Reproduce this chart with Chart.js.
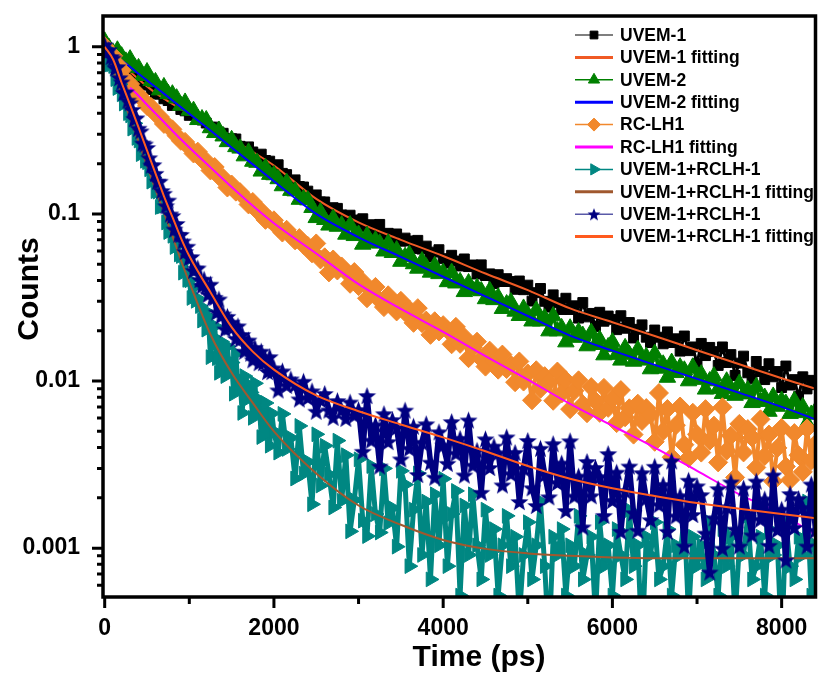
<!DOCTYPE html>
<html>
<head>
<meta charset="utf-8">
<script src="https://cdn.jsdelivr.net/npm/chart.js@4.4.1/dist/chart.umd.min.js"></script>
<style>
  html, body { margin: 0; padding: 0; background: #fff; }
  #wrap { width: 826px; height: 675px; }
</style>
</head>
<body>
<div id="wrap"><canvas id="chart" width="826" height="675"></canvas></div>
<script>
// ---- time grids (ps) ----
const timeSlow = [0,50,100,150,200,250,300,350,400,450,500,550,600,650,700,750,800,850,900,950,
  1000,1050,1100,1150,1200,1250,1300,1350,1400,1450,1500,1550,1600,1650,1700,1750,1800,1850,1900,1950,
  2000,2050,2100,2150,2200,2250,2300,2350,2400,2450,2500,2550,2600,2650,2700,2750,2800,2850,2900,2950,
  3000,3050,3100,3150,3200,3250,3300,3350,3400,3450,3500,3550,3600,3650,3700,3750,3800,3850,3900,3950,
  4000,4050,4100,4150,4200,4250,4300,4350,4400,4450,4500,4550,4600,4650,4700,4750,4800,4850,4900,4950,
  5000,5050,5100,5150,5200,5250,5300,5350,5400,5450,5500,5550,5600,5650,5700,5750,5800,5850,5900,5950,
  6000,6050,6100,6150,6200,6250,6300,6350,6400,6450,6500,6550,6600,6650,6700,6750,6800,6850,6900,6950,
  7000,7050,7100,7150,7200,7250,7300,7350,7400,7450,7500,7550,7600,7650,7700,7750,7800,7850,7900,7950,
  8000,8050,8100,8150,8200,8250,8300,8350,8400];
const timeFast = [0,25,50,75,100,125,150,175,200,225,250,275,300,325,350,375,400,425,450,475,
  500,525,550,575,600,625,650,675,700,725,750,775,800,825,850,875,900,925,950,975,
  1000,1025,1050,1075,1100,1125,1150,1175,1200,1225,1250,1275,1300,1325,1350,1375,1400,1425,1450,1475,
  1500,1525,1550,1575,1600,1625,1650,1675,1700,1725,1750,1775,1800,1825,1850,1875,1900,1925,1950,1975,
  2000,2050,2100,2150,2200,2250,2300,2350,2400,2450,2500,2550,2600,2650,2700,2750,2800,2850,2900,2950,
  3000,3050,3100,3150,3200,3250,3300,3350,3400,3450,3500,3550,3600,3650,3700,3750,3800,3850,3900,3950,
  4000,4050,4100,4150,4200,4250,4300,4350,4400,4450,4500,4550,4600,4650,4700,4750,4800,4850,4900,4950,
  5000,5050,5100,5150,5200,5250,5300,5350,5400,5450,5500,5550,5600,5650,5700,5750,5800,5850,5900,5950,
  6000,6050,6100,6150,6200,6250,6300,6350,6400,6450,6500,6550,6600,6650,6700,6750,6800,6850,6900,6950,
  7000,7050,7100,7150,7200,7250,7300,7350,7400,7450,7500,7550,7600,7650,7700,7750,7800,7850,7900,7950,
  8000,8050,8100,8150,8200,8250,8300,8350,8400];
const fitTime = [0,100,200,300,400,500,600,700,800,900,1000,1250,1500,1750,2000,2500,3000,3500,4000,4500,
  5000,5500,6000,6500,7000,7500,8000,8400];

// ---- measured decays (counts, normalised) ----
const uvem1 = [1.01,0.930,0.912,0.835,0.801,0.731,0.712,0.689,0.633,0.597,
  0.590,0.555,0.523,0.521,0.489,0.477,0.446,0.452,0.422,0.414,
  0.389,0.393,0.370,0.365,0.350,0.330,0.331,0.309,0.304,0.283,
  0.282,0.281,0.254,0.240,0.252,0.235,0.220,0.228,0.209,0.207,
  0.187,0.197,0.175,0.172,0.153,0.160,0.146,0.145,0.137,0.125,
  0.130,0.118,0.118,0.105,0.109,0.108,0.0987,0.0936,0.0983,0.092,
  0.0850,0.0936,0.0842,0.0862,0.0760,0.0866,0.0749,0.0766,0.0670,0.0759,
  0.0687,0.0717,0.0689,0.0620,0.0695,0.0616,0.0642,0.0552,0.0591,0.0611,
  0.0540,0.0508,0.0566,0.0523,0.0488,0.0538,0.0484,0.0495,0.0437,0.0496,
  0.0428,0.0438,0.0383,0.0433,0.0394,0.0410,0.0394,0.0354,0.0397,0.0352,
  0.0375,0.0301,0.0338,0.0358,0.0300,0.0277,0.0328,0.0294,0.0268,0.0313,
  0.0268,0.0282,0.0238,0.0295,0.0242,0.0254,0.0212,0.0258,0.0228,0.0245,
  0.0234,0.0203,0.0246,0.0207,0.0224,0.0181,0.0204,0.0217,0.0183,0.0170,
  0.0202,0.0183,0.0167,0.0197,0.0170,0.0179,0.0151,0.0186,0.0152,0.0160,
  0.0127,0.0168,0.0142,0.0159,0.0150,0.0124,0.0160,0.0129,0.0144,0.0108,
  0.0128,0.0141,0.0112,0.0103,0.0131,0.0114,0.0102,0.0127,0.0106,0.0114,
  0.00914,0.0123,0.00946,0.0102,0.00807,0.0106,0.00897,0.0101,0.00951];
const uvem2 = [1.08,0.989,0.921,0.954,0.880,0.819,0.844,0.763,0.748,0.672,
  0.707,0.627,0.617,0.551,0.576,0.524,0.521,0.493,0.446,0.465,
  0.417,0.415,0.366,0.370,0.365,0.327,0.306,0.316,0.292,0.270,
  0.278,0.252,0.247,0.222,0.234,0.206,0.203,0.180,0.189,0.172,
  0.171,0.162,0.147,0.154,0.138,0.137,0.122,0.123,0.121,0.109,
  0.0948,0.1026,0.0923,0.0855,0.0939,0.0841,0.0858,0.0754,0.0858,0.0740,
  0.0753,0.0657,0.0742,0.0671,0.0697,0.0667,0.0598,0.0667,0.0586,0.0608,
  0.0519,0.0555,0.0571,0.0502,0.0472,0.0523,0.0481,0.0447,0.0490,0.0438,
  0.0446,0.0392,0.0446,0.0385,0.0393,0.0342,0.0386,0.0349,0.0362,0.0346,
  0.0310,0.0347,0.0306,0.0317,0.0271,0.0289,0.0297,0.0261,0.0246,0.0272,
  0.0250,0.0228,0.0265,0.0228,0.0238,0.0199,0.0245,0.0199,0.0208,0.0171,
  0.0207,0.0182,0.0197,0.0187,0.0162,0.0195,0.0165,0.0177,0.0143,0.0160,
  0.0171,0.0144,0.0133,0.0158,0.0144,0.0131,0.0154,0.0133,0.0140,0.0118,
  0.0146,0.0119,0.0126,0.0105,0.0129,0.0112,0.0121,0.0116,0.0100,0.0121,
  0.0102,0.0110,0.00892,0.0100,0.0107,0.00897,0.00840,0.00997,0.00898,0.00819,
  0.00968,0.00835,0.00884,0.00741,0.00925,0.00753,0.00797,0.00657,0.00809,0.00704,
  0.00765,0.00733,0.00638,0.00762,0.00645,0.00700,0.00559,0.00631,0.00663];
const rclh1 = [1.01,0.912,0.884,0.784,0.724,0.632,0.600,0.537,0.517,0.484,
  0.443,0.436,0.398,0.382,0.346,0.336,0.321,0.294,0.274,0.270,
  0.250,0.230,0.236,0.212,0.207,0.182,0.191,0.168,0.164,0.144,
  0.150,0.136,0.135,0.126,0.114,0.118,0.105,0.104,0.0922,0.0926,
  0.0916,0.0826,0.0774,0.0804,0.0745,0.0695,0.0717,0.0653,0.0644,0.0581,
  0.0666,0.0534,0.0550,0.0447,0.0534,0.0459,0.0485,0.0451,0.0382,0.0449,
  0.0370,0.0393,0.0313,0.0348,0.0366,0.0304,0.0277,0.0326,0.0290,0.0261,
  0.0302,0.0258,0.0268,0.0223,0.0273,0.0222,0.0230,0.0189,0.0228,0.0198,
  0.0216,0.0202,0.0166,0.0211,0.0167,0.0183,0.0137,0.0159,0.0172,0.0136,
  0.0122,0.0152,0.0132,0.0117,0.0144,0.0118,0.0125,0.00984,0.0131,0.00993,
  0.0111,0.00767,0.0116,0.00899,0.0107,0.00988,0.00762,0.0114,0.00842,0.0101,
  0.00679,0.00874,0.0101,0.00725,0.00642,0.00920,0.0076,0.00645,0.00910,0.00691,
  0.00782,0.00560,0.00883,0.00607,0.00687,0.00478,0.00732,0.00577,0.00689,0.00630,
  0.00433,0.00848,0.00502,0.00680,0.00350,0.00544,0.00704,0.00416,0.00346,0.00646,
  0.0048,0.00373,0.00679,0.00439,0.00541,0.00326,0.00697,0.00383,0.00471,0.00265,
  0.00554,0.00374,0.00516,0.00459,0.00304,0.00590,0.00356,0.00478,0.00251,0.00398,
  0.00524,0.00308,0.00256,0.00488,0.0036,0.00286,0.00520,0.00334,0.00421];
const mix1 = [0.982,0.963,0.782,0.787,0.768,0.641,0.567,0.597,0.52,0.458,
  0.473,0.401,0.389,0.324,0.349,0.285,0.275,0.228,0.243,0.208,
  0.204,0.185,0.156,0.165,0.137,0.136,0.110,0.111,0.112,0.0889,
  0.0779,0.0869,0.074,0.0634,0.0704,0.0572,0.0560,0.0445,0.0522,0.0403,
  0.0401,0.0314,0.0364,0.0302,0.0311,0.0281,0.0230,0.0265,0.0203,0.0243,
  0.0139,0.0184,0.0213,0.0137,0.0112,0.0172,0.0133,0.0107,0.0161,0.0113,
  0.0129,0.0084,0.0146,0.00893,0.0102,0.00644,0.0107,0.00774,0.00951,0.00854,
  0.00602,0.00969,0.00634,0.00773,0.00462,0.00621,0.00739,0.00488,0.00410,0.00640,
  0.005,0.00373,0.00636,0.00392,0.00457,0.00261,0.00539,0.00279,0.00329,0.00183,
  0.0048,0.00237,0.0041,0.00276,0.00175,0.0044,0.00192,0.0036,0.00126,0.00194,
  0.0034,0.00146,0.00118,0.0031,0.0016,0.00124,0.0030,0.00141,0.00174,0.00102,0.0029,
  0.0024,0.00078,0.0017,0.0028,0.00091,0.0019,0.00065,0.0021,0.00104,0.0026,
  0.00078,0.0016,0.0022,0.00052,0.0018,0.00091,0.0021,0.00104,0.00065,0.0017,
  0.00091,0.0013,0.00052,0.00104,0.00156,0.00078,0.00117,0.00039,0.00091,0.00143,
  0.00065,0.00104,0.0019,0.00078,0.00026,0.00117,0.00091,0.0013,0.00052,0.00104,
  0.00078,0.00156,0.00065,0.00091,0.00117,0.00039,0.00143,0.00078,0.00104,0.00052,
  0.0013,0.00091,0.00065,0.00169,0.00078,0.00104,0.00026,0.00117,0.00091,0.00143,
  0.00065,0.00078,0.0013,0.00052,0.00104,0.00091,0.00156,0.00039,0.00117,0.00078,
  0.00104,0.00065,0.00143,0.00091,0.00052,0.0013,0.00078,0.00117,0.00039,0.00104,
  0.00091,0.00156,0.00065,0.00078,0.00117,0.00052,0.0013,0.00091,0.00104,0.00026,
  0.00143,0.00078,0.00065,0.00117,0.00091,0.0019,0.00052,0.00104];
const mix2 = [1.03,0.933,0.963,0.875,0.859,0.749,0.762,0.654,0.617,0.533,
  0.538,0.480,0.463,0.422,0.372,0.376,0.326,0.314,0.266,0.262,
  0.250,0.217,0.196,0.197,0.175,0.157,0.157,0.138,0.133,0.112,
  0.121,0.100,0.0978,0.0812,0.0877,0.0756,0.0754,0.0689,0.0596,0.0641,
  0.0550,0.0555,0.0460,0.0474,0.0475,0.0405,0.0372,0.0407,0.037,0.0331,
  0.0380,0.0316,0.0317,0.0259,0.0310,0.0246,0.0252,0.0205,0.0244,0.0211,
  0.0225,0.0212,0.0180,0.0214,0.0178,0.0190,0.0151,0.0167,0.0176,0.0147,
  0.0134,0.0159,0.0142,0.0129,0.0151,0.0129,0.0135,0.0114,0.0140,0.0114,
  0.0120,0.00885,0.0115,0.00943,0.0103,0.00954,0.00782,0.00998,0.00797,0.00874,
  0.00660,0.00774,0.00843,0.00671,0.00607,0.00764,0.00675,0.00598,0.00749,0.00625,
  0.00675,0.00380,0.00819,0.00443,0.00548,0.00310,0.00638,0.00434,0.00588,0.00527,
  0.00342,0.00670,0.00396,0.00537,0.00276,0.00430,0.00555,0.00327,0.00266,0.00497,
  0.00414,0.00322,0.00572,0.00370,0.00454,0.00274,0.00585,0.00314,0.00385,0.00216,
  0.00451,0.00304,0.00408,0.00372,0.00239,0.00463,0.00279,0.00374,0.00190,0.00301,
  0.00441,0.00230,0.00180,0.00396,0.00276,0.00203,0.00422,0.00247,0.00323,0.00168,
  0.00439,0.00205,0.00270,0.00134,0.00330,0.00206,0.00304,0.00268,0.00157,0.00368,
  0.00193,0.00285,0.00126,0.00221,0.00310,0.00163,0.00128,0.00283,0.00199,0.00148,
  0.00309,0.00182,0.00240,0.00126,0.00333,0.00156,0.00206,0.00103,0.00255,0.00159,
  0.00236,0.00209,0.00123,0.00072,0.00152,0.00227,0.00100,0.00177,0.00249,0.00130,
  0.00103,0.00229,0.00162,0.00120,0.00252,0.00149,0.00197,0.00104,0.00274,0.00129,
  0.00171,0.00085,0.00212,0.00133,0.00198,0.00175,0.00103,0.00242,0.00128];

// ---- fitted curves ----
const fitUvem1 = [1.0,0.89,0.79,0.71,0.64,0.58,0.53,0.49,0.455,0.425,0.40,0.335,0.28,0.235,0.195,0.123,0.089,0.070,0.056,0.044,
  0.035,0.0272,0.0225,0.0186,0.0153,0.0126,0.0104,0.0090];
const fitUvem2 = [1.0,0.91,0.83,0.76,0.69,0.63,0.575,0.525,0.478,0.436,0.398,0.316,0.25,0.198,0.157,0.100,0.0725,0.0553,0.0421,0.0321,
  0.0245,0.0187,0.0152,0.0125,0.0103,0.0085,0.0070,0.0059];
const fitRclh1 = [null,null,null,0.57,0.51,0.45,0.40,0.355,0.315,0.28,0.25,0.19,0.145,0.112,0.088,0.058,0.038,0.027,0.0197,0.0141,
  0.0102,0.0073,0.0054,0.0040,0.0029,0.0021,0.0016,0.0012];
const fitMix1 = [1.0,0.72,0.52,0.375,0.27,0.195,0.14,0.102,0.074,0.053,0.039,0.019,0.0112,0.0074,0.0050,0.0028,0.0018,0.00138,0.00112,0.00099,
  0.00093,0.0009,0.00088,0.00087,0.00087,0.00087,0.00087,0.00087];
const fitMix2 = [1.0,0.84,0.61,0.45,0.33,0.24,0.175,0.128,0.096,0.072,0.056,0.034,0.021,0.015,0.0117,0.0082,0.0066,0.0055,0.0046,0.0038,
  0.0031,0.0026,0.00228,0.00205,0.00186,0.00172,0.0016,0.00151];

// ---- axes ----
const xMajor = [0, 2000, 4000, 6000, 8000];
const xMinor = [1000, 3000, 5000, 7000];
const yMajor = [0.001, 0.01, 0.1, 1];
const yMajorLabels = ['0.001', '0.01', '0.1', '1'];
const yMinor = [0.0006,0.0007,0.0008,0.0009,0.002,0.003,0.004,0.005,0.006,0.007,0.008,0.009,
  0.02,0.03,0.04,0.05,0.06,0.07,0.08,0.09,0.2,0.3,0.4,0.5,0.6,0.7,0.8,0.9];

const FONT = '"Liberation Sans", Arial, sans-serif';

// filled five point star symbols (plot size and legend size)
function makeStar(outer) {
  const s = Math.ceil(outer * 2 + 2);
  const cv = document.createElement('canvas');
  cv.width = s; cv.height = s;
  const c = cv.getContext('2d');
  c.fillStyle = '#000080';
  c.beginPath();
  for (let i = 0; i < 10; i++) {
    const r = i % 2 ? outer * 0.42 : outer;
    const a = -Math.PI / 2 + i * Math.PI / 5;
    c.lineTo(s / 2 + r * Math.cos(a), s / 2 + outer * 0.1 + r * Math.sin(a));
  }
  c.closePath();
  c.fill();
  return cv;
}
const star = makeStar(9.5);
const starSmall = makeStar(6.8);

function pts(xs, ys) {
  return xs.map((x, i) => ({ x: x, y: ys[i] }));
}

function dataSet(label, xs, ys, color, style, radius, rotation, lineW, legend) {
  return {
    label: label, data: pts(xs, ys), showLine: true,
    borderColor: color, borderWidth: lineW, borderJoinStyle: 'bevel', backgroundColor: color,
    pointStyle: style, pointRadius: radius, pointRotation: rotation || 0,
    pointBackgroundColor: color, pointBorderColor: color, pointBorderWidth: 1,
    legend: legend
  };
}

function fitSet(label, ys, color) {
  return {
    label: label, data: pts(fitTime, ys), showLine: true,
    borderColor: color, borderWidth: 2, pointRadius: 0,
    cubicInterpolationMode: 'monotone', spanGaps: false,
    legend: { line: color }
  };
}

const datasets = [
  dataSet('UVEM-1', timeSlow, uvem1, '#000000', 'rect', 7, 0, 3,
    { line: '#555555', style: 'rect', radius: 5.5 }),
  fitSet('UVEM-1 fitting', fitUvem1, '#f05a24'),
  dataSet('UVEM-2', timeSlow, uvem2, '#008000', 'triangle', 9.5, 0, 3.5,
    { line: '#008000', style: 'triangle', radius: 6.5 }),
  fitSet('UVEM-2 fitting', fitUvem2, '#0000ff'),
  dataSet('RC-LH1', timeSlow, rclh1, '#f1882c', 'rectRot', 9.5, 0, 4,
    { line: '#f1882c', style: 'rectRot', radius: 6.5 }),
  fitSet('RC-LH1 fitting', fitRclh1, '#ff00ff'),
  dataSet('UVEM-1+RCLH-1', timeFast, mix1, '#008782', 'triangle', 8.5, 90, 5,
    { line: '#008782', style: 'triangle', radius: 6.5, rotation: 90 }),
  fitSet('UVEM-1+RCLH-1 fitting', fitMix1, '#a0582e'),
  dataSet('UVEM-1+RCLH-1', timeFast, mix2, '#000080', star, 9, 0, 5.5,
    { line: '#5a5aa8', style: starSmall, radius: 6 }),
  fitSet('UVEM-1+RCLH-1 fitting', fitMix2, '#ff5a1e')
];
// later entries drawn on top, as in the original plot
datasets.forEach((d, i) => { d.order = datasets.length - i; });

const decor = {
  id: 'decor',
  afterDraw(chart) {
    const ctx = chart.ctx;
    const a = chart.chartArea;
    const x = chart.scales.x, y = chart.scales.y;
    ctx.save();
    ctx.strokeStyle = '#000';
    ctx.lineWidth = 3;
    ctx.beginPath();
    xMajor.forEach(v => { const p = x.getPixelForValue(v); ctx.moveTo(p, a.bottom); ctx.lineTo(p, a.bottom + 11); });
    xMinor.forEach(v => { const p = x.getPixelForValue(v); ctx.moveTo(p, a.bottom); ctx.lineTo(p, a.bottom + 7); });
    yMajor.forEach(v => { const p = y.getPixelForValue(v); ctx.moveTo(a.left, p); ctx.lineTo(a.left - 11, p); });
    yMinor.forEach(v => { const p = y.getPixelForValue(v); ctx.moveTo(a.left, p); ctx.lineTo(a.left - 6, p); });
    ctx.stroke();
    ctx.lineWidth = 3.5;
    ctx.strokeRect(a.left, a.top, a.right - a.left, a.bottom - a.top);

    // axis titles
    ctx.fillStyle = '#000';
    ctx.font = 'bold 30px ' + FONT;
    ctx.textAlign = 'center';
    ctx.textBaseline = 'alphabetic';
    ctx.fillText('Time (ps)', 479, 666);
    ctx.translate(38, 289);
    ctx.rotate(-Math.PI / 2);
    ctx.fillText('Counts', 0, 0);
    ctx.restore();

    // legend
    ctx.save();
    ctx.font = 'bold 17.5px ' + FONT;
    ctx.textAlign = 'left';
    ctx.textBaseline = 'middle';
    chart.data.datasets.forEach((d, i) => {
      const yy = 35 + i * 22.4;
      const lg = d.legend;
      ctx.strokeStyle = lg.line;
      ctx.lineWidth = lg.style ? 1.5 : 3;
      ctx.beginPath();
      ctx.moveTo(575, yy);
      ctx.lineTo(613, yy);
      ctx.stroke();
      if (lg.style) {
        ctx.fillStyle = d.pointBackgroundColor;
        ctx.strokeStyle = d.pointBorderColor;
        ctx.lineWidth = 1;
        Chart.helpers.drawPoint(ctx, {
          pointStyle: lg.style, rotation: lg.rotation || 0,
          radius: lg.radius, borderWidth: 1
        }, 594, yy);
      }
      ctx.fillStyle = '#000';
      ctx.fillText(d.label, 620, yy + 1);
    });
    ctx.restore();
  }
};

new Chart(document.getElementById('chart'), {
  type: 'scatter',
  data: { datasets: datasets },
  options: {
    responsive: false,
    animation: false,
    devicePixelRatio: 1,
    layout: { padding: { top: 16, right: 2, left: 0, bottom: 0 } },
    plugins: { legend: { display: false }, tooltip: { enabled: false } },
    scales: {
      x: {
        type: 'linear', min: -20, max: 8400,
        grid: { display: false, drawTicks: false },
        border: { display: false },
        afterBuildTicks: s => { s.ticks = xMajor.map(v => ({ value: v })); },
        afterFit: s => { s.height = 78; s.paddingLeft = 0; s.paddingRight = 0; },
        ticks: {
          autoSkip: false, maxRotation: 0, padding: 18, color: '#000',
          font: { family: FONT, size: 23, weight: 'bold' },
          callback: v => String(v)
        }
      },
      y: {
        type: 'logarithmic', min: 0.00051, max: 1.53,
        grid: { display: false, drawTicks: false },
        border: { display: false },
        afterBuildTicks: s => { s.ticks = yMajor.map(v => ({ value: v })); },
        afterFit: s => { s.width = 103; s.paddingTop = 0; s.paddingBottom = 0; },
        ticks: {
          autoSkip: false, padding: 23, color: '#000',
          font: { family: FONT, size: 23, weight: 'bold' },
          callback: v => yMajorLabels[yMajor.indexOf(v)]
        }
      }
    }
  },
  plugins: [decor]
});
</script>
</body>
</html>
